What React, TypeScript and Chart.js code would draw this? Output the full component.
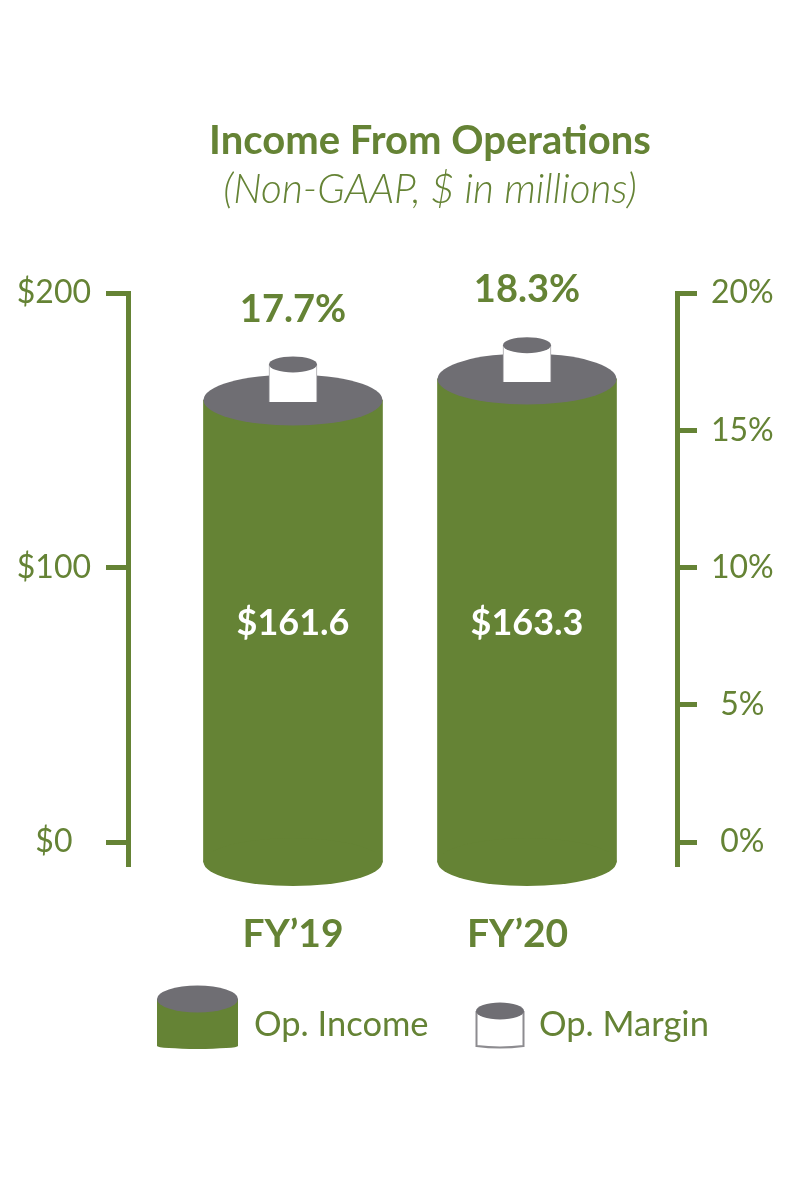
import React, { useEffect, useRef } from 'react';
import Chart from 'chart.js/auto';

const GREEN = '#658335';
const GRAY = '#6f6e73';
const FONT = 'Lato, "Open Sans", sans-serif';

const fiscalYears = ['FY’19', 'FY’20'];
const fiscalPositions = [1, 2];
const fiscalTickPositions = [1, 1.96];

// bars (the artwork does not follow its printed labels exactly)
const incomeBase = [-7.3, -7.3];
const incomeTop = [161, 168.7];
const incomeLabels = ['$161.6', '$163.3'];
const marginBase = [16.03, 16.76];
const marginTop = [17.4, 18.1];
const marginLabels = ['17.7%', '18.3%'];

const incomeTicks = [0, 100, 200];
const marginTicks = [0, 5, 10, 15, 20];

const drawEllipse = (ctx: CanvasRenderingContext2D, x: number, y: number, rx: number, ry: number, color: string) => {
  ctx.save();
  ctx.fillStyle = color;
  ctx.beginPath();
  ctx.ellipse(x, y, rx, ry, 0, 0, Math.PI * 2);
  ctx.fill();
  ctx.restore();
};

// caps of the cylinders and the printed values
const cylinderPlugin = {
  id: 'cylinders',
  // the titles sit right of the page centre
  afterLayout(chart: any) {
    chart.boxes.forEach((box: any) => {
      if (box.options && box.options.text) box.left = 60;
    });
  },
  afterDatasetDraw(chart: any, args: any) {
    const { ctx } = chart;
    const bars = chart.getDatasetMeta(args.index).data;
    bars.forEach((bar: any) => {
      if (args.index === 0) {
        drawEllipse(ctx, bar.x, bar.base, 89.5, 24, GREEN);
        drawEllipse(ctx, bar.x, bar.y, 89.5, 25.5, GRAY);
      } else {
        drawEllipse(ctx, bar.x, bar.y, 24, 8, GRAY);
      }
    });
  },
  afterDatasetsDraw(chart: any) {
    const { ctx, scales } = chart;
    ctx.save();
    ctx.textAlign = 'center';
    ctx.textBaseline = 'middle';
    ctx.font = `bold 36px ${FONT}`;
    ctx.fillStyle = '#ffffff';
    chart.getDatasetMeta(0).data.forEach((bar: any, i: number) => {
      ctx.fillText(incomeLabels[i], bar.x, scales.y.getPixelForValue(79.5));
    });
    ctx.font = `bold 38px ${FONT}`;
    ctx.fillStyle = GREEN;
    chart.getDatasetMeta(1).data.forEach((bar: any, i: number) => {
      ctx.fillText(marginLabels[i], bar.x, bar.y - 55);
    });
    ctx.restore();
  },
  // legend with small cylinders
  afterDraw(chart: any) {
    const { ctx } = chart;
    ctx.save();
    ctx.fillStyle = GREEN;
    ctx.fillRect(157, 999, 81, 47);
    drawEllipse(ctx, 197.5, 1046, 40.5, 3, GREEN);
    drawEllipse(ctx, 197.5, 999, 40.5, 13.5, GRAY);

    ctx.strokeStyle = '#8d8c90';
    ctx.lineWidth = 2;
    ctx.beginPath();
    ctx.moveTo(476.5, 1011);
    ctx.lineTo(476.5, 1046);
    ctx.quadraticCurveTo(500, 1049, 523.5, 1046);
    ctx.lineTo(523.5, 1011);
    ctx.stroke();
    drawEllipse(ctx, 500, 1011, 24, 8.5, GRAY);

    ctx.fillStyle = GREEN;
    ctx.font = `34.5px ${FONT}`;
    ctx.textAlign = 'left';
    ctx.textBaseline = 'middle';
    ctx.fillText(chart.data.datasets[0].label, 254, 1025);
    ctx.fillText(chart.data.datasets[1].label, 539, 1025);
    ctx.restore();
  },
};

const App: React.FC = () => {
  const chartRef = useRef<HTMLCanvasElement>(null);

  useEffect(() => {
    if (!chartRef.current) return;

    const chart = new Chart(chartRef.current, {
      type: 'bar',
      data: {
        datasets: [
          {
            label: 'Op. Income',
            data: fiscalPositions.map((x, i) => ({ x, y: [incomeBase[i], incomeTop[i]] })),
            backgroundColor: GREEN,
            barThickness: 179,
            grouped: false,
            yAxisID: 'y',
            order: 2,
          },
          {
            label: 'Op. Margin',
            data: fiscalPositions.map((x, i) => ({ x, y: [marginBase[i], marginTop[i]] })),
            backgroundColor: '#ffffff',
            borderColor: '#a5a4a8',
            borderWidth: { left: 1, right: 1, top: 0, bottom: 0 },
            barThickness: 48,
            grouped: false,
            yAxisID: 'y2',
            order: 1,
          },
        ] as any,
      },
      plugins: [cylinderPlugin],
      options: {
        responsive: false,
        animation: false,
        layout: { padding: 0 },
        plugins: {
          legend: { display: false },
          tooltip: { enabled: false },
          title: {
            display: true,
            text: 'Income From Operations',
            color: GREEN,
            font: { family: FONT, size: 40, weight: 'bold', lineHeight: 1.2 },
            padding: { top: 117, bottom: 1 },
          },
          subtitle: {
            display: true,
            text: '(Non-GAAP, $ in millions)',
            color: GREEN,
            font: { family: FONT, size: 40.5, weight: 300, style: 'italic', lineHeight: 1.2 },
            padding: { top: 0, bottom: 78.4 },
          },
        },
        scales: {
          x: {
            type: 'linear',
            offset: false,
            min: 0.295,
            max: 2.641,
            grid: { display: false },
            border: { display: false },
            afterBuildTicks: (scale: any) => {
              scale.ticks = fiscalTickPositions.map(value => ({ value }));
            },
            afterFit: (scale: any) => {
              scale.height = 336;
            },
            ticks: {
              autoSkip: false,
              maxRotation: 0,
              padding: 39,
              color: GREEN,
              font: { family: FONT, size: 39, weight: 'bold' },
              callback: (_value: any, index: number) => fiscalYears[index],
            },
          },
          y: {
            position: 'left',
            min: -8,
            max: 200,
            border: { display: true, color: GREEN, width: 5 },
            grid: { drawOnChartArea: false, color: GREEN, lineWidth: 5, tickLength: 22 },
            afterBuildTicks: (scale: any) => {
              scale.ticks = incomeTicks.map(value => ({ value }));
            },
            afterFit: (scale: any) => {
              scale.width = 128;
            },
            ticks: {
              crossAlign: 'center',
              padding: 15,
              color: GREEN,
              font: { family: FONT, size: 32 },
              callback: (value: any) => `$${value}`,
            },
          },
          y2: {
            position: 'right',
            min: -0.8,
            max: 20,
            border: { display: true, color: GREEN, width: 5 },
            grid: { drawOnChartArea: false, color: GREEN, lineWidth: 5, tickLength: 20 },
            afterBuildTicks: (scale: any) => {
              scale.ticks = marginTicks.map(value => ({ value }));
            },
            afterFit: (scale: any) => {
              scale.width = 123;
            },
            ticks: {
              crossAlign: 'center',
              padding: 14,
              color: GREEN,
              font: { family: FONT, size: 32 },
              callback: (value: any) => `${value}%`,
            },
          },
        },
      } as any,
    });

    return () => chart.destroy();
  }, []);

  return (
    <div style={{ position: 'absolute', left: 0, top: 0, width: 800, height: 1200, background: '#ffffff' }}>
      <canvas ref={chartRef} width={800} height={1200} style={{ display: 'block' }} />
    </div>
  );
};

export default App;
